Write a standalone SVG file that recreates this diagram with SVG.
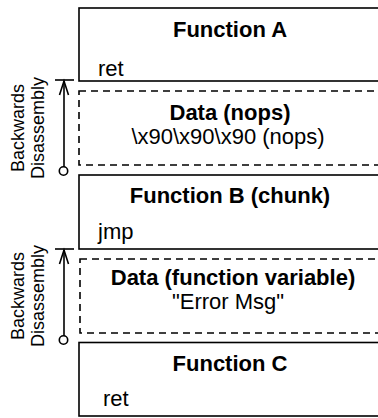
<svg xmlns="http://www.w3.org/2000/svg" width="378" height="418" viewBox="0 0 378 418">
<defs>
<style>
.box{fill:#fff;stroke:#000;stroke-width:1.6}
.dbox{fill:#fff;stroke:#000;stroke-width:1.6;stroke-dasharray:7 5}
.title{font-family:"Liberation Sans",Arial,sans-serif;font-size:22px;font-weight:bold;text-anchor:middle;fill:#000}
.txt{font-family:"Liberation Sans",Arial,sans-serif;font-size:22px;fill:#000}
.mid{text-anchor:middle}
.side{font-family:"Liberation Sans",Arial,sans-serif;font-size:18px;text-anchor:middle;fill:#000}
.ln{fill:none;stroke:#000;stroke-width:1.6}
.dot{fill:#fff;stroke:#000;stroke-width:1.6}
</style>
</defs>
<rect width="378" height="418" fill="#fff"/>
<g id="function-a">
<rect class="box" x="79" y="8" width="312" height="73"/>
<text class="title" x="230" y="37">Function A</text>
<text class="txt" x="98" y="76">ret</text>
</g>
<g id="data-nops">
<rect class="dbox" x="79" y="91" width="312" height="74"/>
<text class="title" x="230" y="120">Data (nops)</text>
<text class="txt mid" x="228" y="144">\x90\x90\x90 (nops)</text>
</g>
<g id="function-b">
<rect class="box" x="79" y="175" width="312" height="74"/>
<text class="title" x="230" y="203">Function B (chunk)</text>
<text class="txt" x="98" y="239">jmp</text>
</g>
<g id="data-variable">
<rect class="dbox" x="80" y="259" width="312" height="74"/>
<text class="title" x="233" y="285">Data (function variable)</text>
<text class="txt mid" x="228" y="309">"Error Msg"</text>
</g>
<g id="function-c">
<rect class="box" x="79" y="342.5" width="312" height="73.5"/>
<text class="title" x="230" y="371">Function C</text>
<text class="txt" x="103" y="406">ret</text>
</g>
<g id="connectors">
<line class="ln" x1="55" y1="80" x2="74" y2="80"/>
<line class="ln" x1="64" y1="81" x2="64" y2="167"/>
<polyline class="ln" points="59.5,95 64,81 68.5,95"/>
<circle class="dot" cx="63.5" cy="171" r="4.2"/>
<line class="ln" x1="55" y1="249" x2="74" y2="249"/>
<line class="ln" x1="64" y1="250" x2="64" y2="336"/>
<polyline class="ln" points="59.5,264 64,250 68.5,264"/>
<circle class="dot" cx="63.5" cy="340" r="4.2"/>
</g>
<g id="labels">
<text class="side" transform="translate(24,128) rotate(-90)">Backwards</text>
<text class="side" transform="translate(44,128) rotate(-90)">Disassembly</text>
<text class="side" transform="translate(24,296) rotate(-90)">Backwards</text>
<text class="side" transform="translate(44,296) rotate(-90)">Disassembly</text>
</g>
</svg>
